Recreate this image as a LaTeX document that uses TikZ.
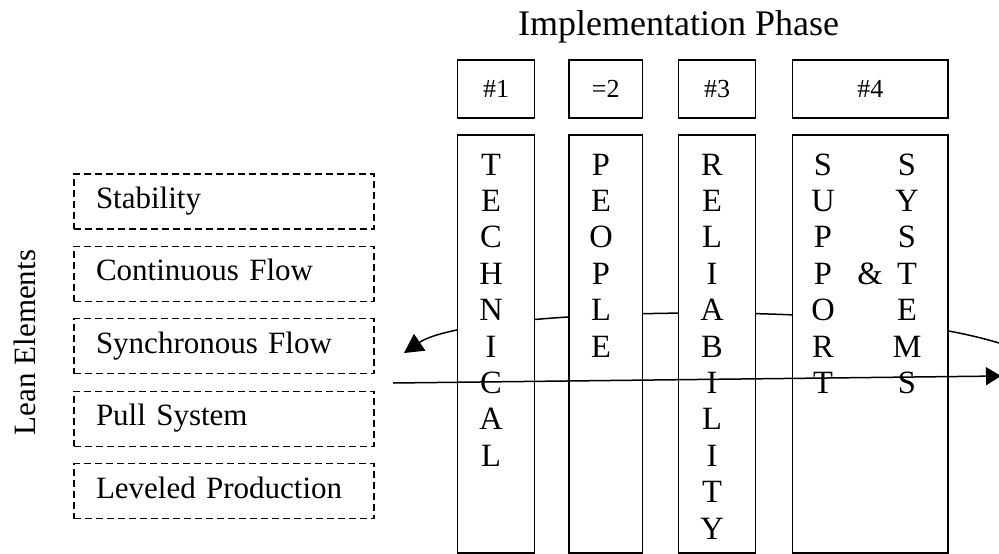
\documentclass[tikz,border=0pt]{standalone}
\usepackage{fontspec}
\setmainfont{Liberation Serif}
\usetikzlibrary{arrows.meta}
\begin{document}
\begin{tikzpicture}[x=1pt,y=-1pt,
  frame/.style={draw, line width=1.1pt, fill=white, inner sep=0pt},
  hdr/.style={frame, minimum height=58pt, font=\fontsize{26}{30}\selectfont},
  col/.style={frame, minimum height=418pt},
  leanbox/.style={draw, dashed, dash pattern=on 7pt off 4pt, line width=1.1pt,
    text width=256pt, inner xsep=22pt, inner ysep=0pt, minimum height=55pt, align=left,
    font=\fontsize{31}{36}\selectfont, text height=21.7pt, text depth=7.75pt},
  letter/.style={anchor=base, inner sep=0pt, font=\fontsize{32.5}{36}\selectfont},
  flow/.style={line width=1.5pt}]
\useasboundingbox (0,0) rectangle (999,554);

% title
\node[anchor=base, inner sep=0pt, font=\fontsize{36}{40}\selectfont] (title) at (678.5,35) {Implementation Phase};

% lean elements label
\node[rotate=90, anchor=base, inner sep=0pt, font=\fontsize{31}{36}\selectfont] (lean) at (35,342.5) {Lean Elements};

% dashed boxes
\node[leanbox] (b1) at (224,201.5) {Stability};
\node[leanbox] (b2) at (224,273.9) {Continuous Flow};
\node[leanbox] (b3) at (224,346.3) {Synchronous Flow};
\node[leanbox] (b4) at (224,418.7) {Pull System};
\node[leanbox] (b5) at (224,491.1) {Leveled Production};

% curved arrow (behind columns)
\coordinate (cr) at (999,343);
\coordinate (ctop) at (703,313);
\coordinate (cl) at (404,353);
\draw[flow, -{Triangle[length=19pt,width=20pt]}] (cr) .. controls (930,322) and (820,313) .. (ctop)
  .. controls (560,313) and (445,325) .. (cl);

% header boxes
\node[hdr, minimum width=77pt] (h1) at (496,89) {\#1};
\node[hdr, minimum width=73.5pt] (h2) at (605.75,89) {=2};
\node[hdr, minimum width=77pt] (h3) at (717,89) {\#3};
\node[hdr, minimum width=155.5pt] (h4) at (870.25,89) {\#4};

% column boxes
\node[col, minimum width=77pt] (c1) at (496,344) {};
\node[col, minimum width=73.5pt] (c2) at (605.75,344) {};
\node[col, minimum width=77pt] (c3) at (717,344) {};
\node[col, minimum width=155.5pt] (c4) at (870.25,344) {};

% column letters
\foreach \l [count=\i from 0] in {T,E,C,H,N,I,C,A,L}
  \node[letter] (t\i) at (491,{175+36.4*\i}) {\l};
\foreach \l [count=\i from 0] in {P,E,O,P,L,E}
  \node[letter] (p\i) at (601,{175+36.4*\i}) {\l};
\foreach \l [count=\i from 0] in {R,E,L,I,A,B,I,L,I,T,Y}
  \node[letter] (r\i) at (712,{175+36.4*\i}) {\l};
\foreach \l [count=\i from 0] in {S,U,P,P,O,R,T}
  \node[letter] (s\i) at (823,{175+36.4*\i}) {\l};
\foreach \l [count=\i from 0] in {S,Y,S,T,E,M,S}
  \node[letter] (y\i) at (907,{175+36.4*\i}) {\l};
\node[letter] (amp) at (870,{175+36.4*3}) {\&};

% horizontal arrow (in front)
\coordinate (hl) at (393,383);
\coordinate (hr) at (1001,376);
\draw[flow, -{Triangle[length=15pt,width=18pt]}] (hl) -- (hr);
\end{tikzpicture}
\end{document}
